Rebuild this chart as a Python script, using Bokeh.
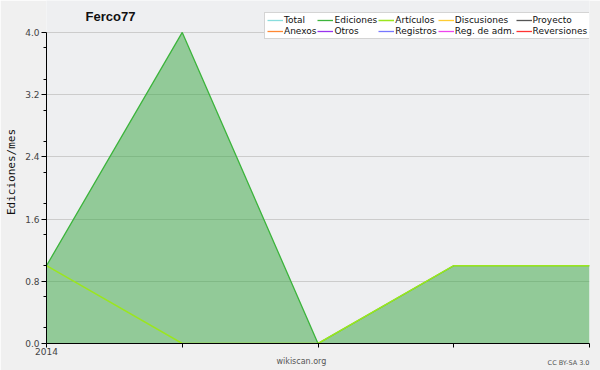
from bokeh.plotting import figure
from bokeh.models import (Range1d, FixedTicker, PrintfTickFormatter, Legend,
                          LegendItem, Label, Title, ColumnDataSource)
from bokeh.embed import file_html
from bokeh.resources import INLINE

# ---- data ----
x_idx = [0, 1, 2, 3, 4]
x_labels = ["2014", "", "", "", ""]
ediciones = [1, 4, 0, 1, 1]
articulos = [1, 0, 0, 1, 1]
y_ticks = [0.0, 0.8, 1.6, 2.4, 3.2, 4.0]
y_minor = [0.2, 0.6, 1.0, 1.4, 1.8, 2.2, 2.6, 3.0, 3.4, 3.8]
legend_names = ["Total", "Ediciones", "Artículos", "Discusiones", "Proyecto",
                "Anexos", "Otros", "Registros", "Reg. de adm.", "Reversiones"]
legend_colors = ["#88dddd", "#55c455", "#aaee22", "#ffcc33", "#555555",
                 "#ff8833", "#9933ee", "#7777ff", "#ee44ee", "#ff3333"]

src = ColumnDataSource(dict(x=x_idx, ed=ediciones, art=articulos,
                            zero=[0] * len(x_idx)))

p = figure(width=600, height=370, output_backend="svg", toolbar_location=None,
           title=None,
           x_range=Range1d(0, 4), y_range=Range1d(0, 4.41),
           min_border_left=46, min_border_right=11,
           min_border_top=0, min_border_bottom=27)
p.background_fill_color = "#eeeff1"
p.border_fill_color = "#f0f0f0"
p.outline_line_color = None

# fill + lines
p.varea(x="x", y1="zero", y2="ed", source=src, fill_color="#36a53f", fill_alpha=0.5)
r_ed = p.line(x="x", y="ed", source=src, line_color="#3cb43c", line_width=1.3)
r_art = p.line(x="x", y="art", source=src, line_color="#9be61e", line_width=1.5)

# grids
p.xgrid.grid_line_color = None
p.ygrid.grid_line_color = "#cccccc"
p.ygrid.ticker = FixedTicker(ticks=y_ticks)

# y axis
ya = p.yaxis[0]
ya.ticker = FixedTicker(ticks=y_ticks, minor_ticks=y_minor)
ya.bounds = (0, 4)
ya.formatter = PrintfTickFormatter(format="%.1f")
ya.axis_line_color = "black"
ya.major_tick_line_color = "black"
ya.minor_tick_line_color = "black"
ya.major_tick_out = 5
ya.major_tick_in = 0
ya.minor_tick_out = 3
ya.minor_tick_in = 0
ya.major_label_standoff = 2
ya.major_label_text_font = "DejaVu Sans"
ya.major_label_text_font_size = "9px"
ya.major_label_text_color = "#444444"
ya.axis_label = "Ediciones/mes"
ya.axis_label_text_font = "DejaVu Sans Mono"
ya.axis_label_text_font_size = "11px"
ya.axis_label_text_font_style = "normal"
ya.axis_label_text_color = "#111111"
ya.axis_label_standoff = 4

# x axis
xa = p.xaxis[0]
xa.ticker = FixedTicker(ticks=x_idx)
xa.major_label_overrides = {i: lab for i, lab in zip(x_idx, x_labels)}
xa.axis_line_color = "black"
xa.major_tick_line_color = "black"
xa.major_tick_out = 4
xa.major_tick_in = 0
xa.minor_tick_line_color = None
xa.major_label_standoff = 0
xa.major_label_text_font = "DejaVu Sans"
xa.major_label_text_font_size = "9px"
xa.major_label_text_color = "#444444"

# legend (placeholder renderers for series without data)
nan = float("nan")
items = []
for name, col in zip(legend_names, legend_colors):
    if name == "Ediciones":
        rr = r_ed
    elif name == "Artículos":
        rr = r_art
    else:
        rr = p.line(x=[0], y=[nan], line_color=col, line_width=1.3)
    items.append(LegendItem(label=name, renderers=[rr]))
legend = Legend(items=items, location=(218, 304), orientation="horizontal", ncols=5)
legend.background_fill_color = "white"
legend.background_fill_alpha = 1.0
legend.border_line_color = "#aaaaaa"
legend.label_text_font = "DejaVu Sans"
legend.label_text_font_size = "9px"
legend.label_text_color = "#111111"
legend.glyph_width = 16
legend.glyph_height = 10
legend.label_height = 10
legend.label_standoff = 1
legend.spacing = 1
legend.padding = 2
legend.margin = 0
p.add_layout(legend, "center")

# title inside the (extended) frame
p.add_layout(Label(x=39, y=327, x_units="screen", y_units="screen", text="Ferco77",
                   text_font="Liberation Sans", text_font_style="bold",
                   text_font_size="13px", text_color="#111111",
                   text_baseline="middle"))

# footer texts (same row: second panel pulled up by a negative standoff)
p.add_layout(Title(text="CC BY-SA 3.0", align="right", standoff=-2,
                   vertical_align="bottom",
                   text_font="DejaVu Sans", text_font_size="6.5px",
                   text_font_style="normal", text_color="#555555"), "below")
p.add_layout(Title(text="wikiscan.org", align="left", offset=230, standoff=-18,
                   vertical_align="top",
                   text_font="DejaVu Sans", text_font_size="8px",
                   text_font_style="normal", text_color="#555555"), "below")

open("out.html", "w").write(file_html(p, INLINE))
